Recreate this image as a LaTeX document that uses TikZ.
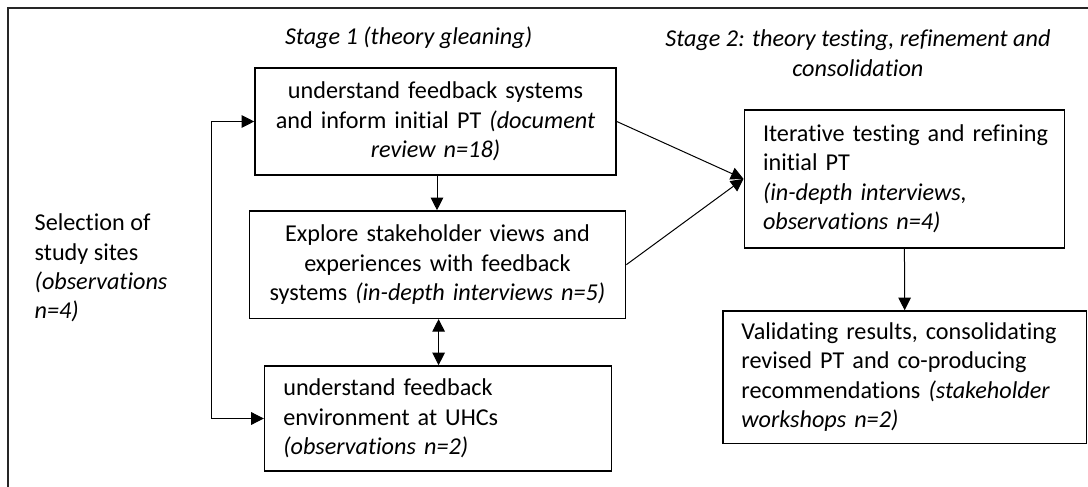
\documentclass[tikz,border=0pt]{standalone}
\usepackage{fontspec}
\setmainfont{Carlito}[Ligatures=NoCommon]
\usetikzlibrary{arrows.meta,calc}

\tikzset{
  >={Triangle[length=6.3pt,width=6.3pt]},
  box/.style={draw,line width=0.8pt,inner xsep=9.35pt,inner ysep=0pt},
  link/.style={line width=0.5pt,->},
}

\begin{document}
\begin{tikzpicture}[x=0.5pt,y=-0.5pt,font=\fontsize{12.1}{14.65}\selectfont]
\useasboundingbox (0,0) rectangle (1088,487);

\draw[line width=1pt,black!85] (8.3,487) -- (8.3,7.7) -- (1088,7.7);

\node (stageA) at (408.6,38) {\textit{Stage 1 (theory gleaning)}};
\node[align=center,inner sep=0pt] (stageB) at (857.9,53.3) {\textit{Stage 2: theory testing, refinement and}\\\textit{consolidation}};

\node[align=left,anchor=west,inner sep=0pt] (sel) at (34.3,268) {Selection of\\study sites\\\textit{(observations}\\\textit{n=4)}};

\node[box,text width=161.8pt,minimum height=53.5pt,align=center] (A) at (435.5,121.5) {understand feedback systems\\and inform initial PT \textit{(document}\\\textit{review n=18)}};
\node[box,text width=169.45pt,minimum height=53.65pt,align=center] (B) at (437.45,264.65) {Explore stakeholder views and\\experiences with feedback\\systems \textit{(in-depth interviews n=5)}};
\node[box,text width=154.8pt,minimum height=52.5pt,align=left] (C) at (438.1,418.5) {understand feedback\\environment at UHCs\\\textit{(observations n=2)}};
\node[box,text width=141.45pt,minimum height=68.85pt,align=left] (D) at (904.45,178.85) {\mbox{Iterative testing and refining}\\initial PT\\\textit{(in-depth interviews,}\\\textit{observations n=4)}};
\node[box,text width=163.25pt,minimum height=66.15pt,align=left] (E) at (904.65,377.15) {Validating results, consolidating\\revised PT and co-producing\\recommendations \textit{(stakeholder}\\\textit{workshops n=2)}};

\coordinate (bend) at (211.5,0);
\coordinate (ab) at (437,0);
\coordinate (bc) at (438.6,0);

\draw[link,<->] (A.west) -- (A.west -| bend) -- (C.west -| bend) -- (C.west);
\draw[link] (A.south -| ab) -- (B.north -| ab);
\draw[link,<->] (B.south -| bc) -- (C.north -| bc);
\draw[link] (A.east) -- (D.west);
\draw[link] (B.east) -- (D.west);
\draw[link] (D.south) -- (E.north);

\end{tikzpicture}
\end{document}
